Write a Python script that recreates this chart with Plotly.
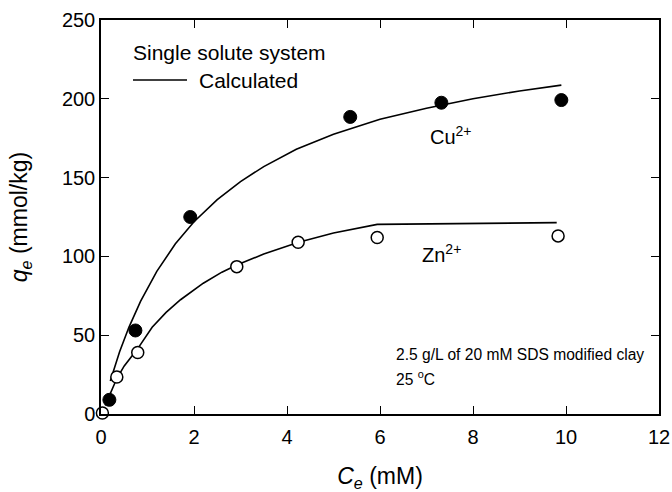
import plotly.graph_objects as go

# Measured data
cu_ce = [0.18, 0.74, 1.92, 5.36, 7.32, 9.90]
cu_qe = [9.0, 53.0, 125.0, 188.5, 197.5, 199.2]
zn_ce = [0.03, 0.34, 0.79, 2.92, 4.24, 5.94, 9.83]
zn_qe = [0.6, 23.5, 39.0, 93.5, 109.0, 112.0, 113.0]

# Calculated curves
cu_calc_ce = [0.20, 0.40, 0.60, 0.85, 1.20, 1.60, 2.00, 2.50, 3.00, 3.50, 4.20,
              5.00, 6.00, 7.00, 8.00, 9.00, 9.90]
cu_calc_qe = [21.0, 39.5, 55.0, 71.5, 90.5, 108.0, 122.0, 136.0, 147.5, 157.0, 168.0,
              177.5, 187.0, 194.0, 200.0, 205.0, 208.7]
zn_calc_ce = [0.09, 0.20, 0.34, 0.50, 0.79, 1.10, 1.40, 1.71, 2.20, 2.60, 2.92, 3.50,
              4.25, 5.00, 5.94, 9.80]
zn_calc_qe = [5.5, 13.5, 22.5, 30.5, 41.5, 55.0, 64.5, 72.5, 83.0, 90.0, 94.5, 101.5,
              109.0, 114.8, 120.3, 121.4]

x_ticks = [0, 2, 4, 6, 8, 10, 12]
y_ticks = [0, 50, 100, 150, 200, 250]

FONT = "Liberation Sans, Arial, sans-serif"
LINE = dict(color="black", width=1.6)

fig = go.Figure()
fig.add_trace(go.Scatter(x=cu_calc_ce, y=cu_calc_qe, mode="lines", line=LINE,
                         name="Calculated", showlegend=False))
fig.add_trace(go.Scatter(x=zn_calc_ce, y=zn_calc_qe, mode="lines", line=LINE,
                         showlegend=False))
fig.add_trace(go.Scatter(x=cu_ce, y=cu_qe, mode="markers",
                         marker=dict(symbol="circle", size=13, color="black",
                                     line=dict(color="black", width=1)),
                         showlegend=False, cliponaxis=False))
fig.add_trace(go.Scatter(x=zn_ce, y=zn_qe, mode="markers",
                         marker=dict(symbol="circle", size=12, color="white",
                                     line=dict(color="black", width=1.5)),
                         showlegend=False, cliponaxis=False))

axis_common = dict(showgrid=False, zeroline=False, showline=True, linecolor="black",
                   linewidth=1.5, mirror="ticks", ticks="inside", ticklen=8,
                   tickwidth=1.3, tickcolor="black", automargin=False,
                   tickfont=dict(family=FONT, size=20, color="black"))

fig.update_xaxes(range=[0, 12], tickvals=x_ticks, ticktext=[str(v) for v in x_ticks],
                 ticklabelstandoff=4,
                 title=dict(text="<i>C<sub>e</sub></i> (mM)",
                            font=dict(family=FONT, size=23, color="black"), standoff=25),
                 **axis_common)
fig.update_yaxes(range=[0, 250], tickvals=y_ticks, ticktext=[str(v) for v in y_ticks],
                 title=dict(text="<i>q<sub>e</sub></i> (mmol/kg)",
                            font=dict(family=FONT, size=23, color="black"), standoff=28),
                 **axis_common)

# Legend-like block
fig.add_annotation(xref="paper", yref="paper", x=(131 - 101) / 558, y=(414 - 53) / 394,
                   xanchor="left", yanchor="middle", text="Single solute system",
                   showarrow=False, font=dict(family=FONT, size=21, color="black"))
fig.add_shape(type="line", xref="paper", yref="paper",
              x0=(133 - 101) / 558, x1=(187 - 101) / 558,
              y0=(414 - 80) / 394, y1=(414 - 80) / 394,
              line=dict(color="black", width=1.3))
fig.add_annotation(xref="paper", yref="paper", x=(197 - 101) / 558, y=(414 - 81) / 394,
                   xanchor="left", yanchor="middle", text="Calculated",
                   showarrow=False, font=dict(family=FONT, size=21, color="black"))

fig.add_annotation(xref="x", yref="y", x=7.52, y=177, text="Cu<sup>2+</sup>",
                   showarrow=False, font=dict(family=FONT, size=20, color="black"))
fig.add_annotation(xref="x", yref="y", x=7.32, y=102, text="Zn<sup>2+</sup>",
                   showarrow=False, font=dict(family=FONT, size=20, color="black"))
fig.add_annotation(xref="x", yref="y", x=6.3, y=38, xanchor="left", yanchor="middle",
                   text="2.5 g/L of 20 mM SDS modified clay", showarrow=False,
                   font=dict(family=FONT, size=15.6, color="black"))
fig.add_annotation(xref="x", yref="y", x=6.3, y=23, xanchor="left", yanchor="middle",
                   text="25 <sup>o</sup>C", showarrow=False,
                   font=dict(family=FONT, size=15.6, color="black"))

fig.update_layout(
    width=672, height=492,
    margin=dict(l=101, r=13, t=20, b=78),
    paper_bgcolor="white", plot_bgcolor="white",
    font=dict(family=FONT, size=20, color="black"),
    showlegend=False,
)

fig.write_html("out.html")
